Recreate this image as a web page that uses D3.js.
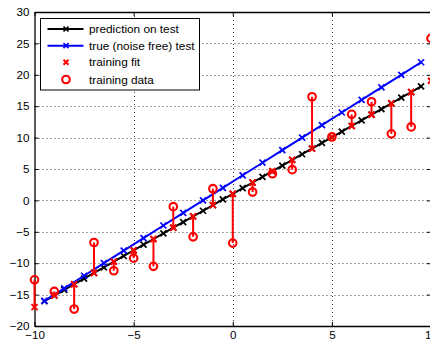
<!DOCTYPE html>
<html>
<head>
<meta charset="utf-8">
<script src="https://cdn.jsdelivr.net/npm/d3@7"></script>
<style>
  html, body { margin: 0; padding: 0; background: #fff; overflow: hidden; }
  svg { display: block; font-family: "Liberation Sans", Arial, Helvetica, sans-serif; }
</style>
</head>
<body>
<svg id="chart" width="430" height="341"></svg>
<script>
// Test inputs and curves
const testXFine = [-9.5,-9,-8.5,-8,-7.5,-7,-6.5,-6,-5.5,-5,-4.5,-4,-3.5,-3,-2.5,-2,-1.5,-1,-0.5,0,
                   0.5,1,1.5,2,2.5,3,3.5,4,4.5,5,5.5,6,6.5,7,7.5,8,8.5,9,9.5];
const predTest = [-16.05,-15.15,-14.25,-13.35,-12.45,-11.55,-10.65,-9.75,-8.85,-7.95,-7.05,-6.15,-5.25,-4.35,
                  -3.45,-2.55,-1.65,-0.75,0.15,1.05,1.95,2.85,3.75,4.65,5.55,6.45,7.35,8.25,9.15,10.05,
                  10.95,11.85,12.75,13.65,14.55,15.45,16.35,17.25,18.15];
const testX = [-9.5,-8.5,-7.5,-6.5,-5.5,-4.5,-3.5,-2.5,-1.5,-0.5,0.5,1.5,2.5,3.5,4.5,5.5,6.5,7.5,8.5,9.5];
const trueTest = [-16,-14,-12,-10,-8,-6,-4,-2,0,2,4,6,8,10,12,14,16,18,20,22];

// Training set and fitted values
const trainX = [-10,-9,-8,-7,-6,-5,-4,-3,-2,-1,0,1,2,3,4,5,6,7,8,9,10];
const trainY = [-12.65,-14.5,-17.3,-6.7,-11.2,-9.2,-10.5,-1.0,-5.8,1.86,-6.8,1.33,4.25,4.9,16.5,10.1,13.7,15.7,10.6,11.7,25.8];
const trainFit = [-17.0,-15.15,-13.35,-11.55,-9.75,-7.95,-6.15,-4.35,-2.55,-0.75,1.05,2.85,4.65,6.45,8.25,10.05,11.85,13.65,15.45,17.25,19.05];

// Axis ticks
const xTicks = [-10,-5,0,5,10];
const yTicks = [-20,-15,-10,-5,0,5,10,15,20,25,30];

const legendItems = [
  {label: "prediction on test", kind: "line", color: "#000"},
  {label: "true (noise free) test", kind: "line", color: "#0000ff"},
  {label: "training fit", kind: "x", color: "#ff0000"},
  {label: "training data", kind: "o", color: "#ff0000"}
];

const svg = d3.select("#chart");
const L = 34.5, R = 431, T = 12, B = 326;
const x = d3.scaleLinear().domain([-10, 10]).range([L, R]);
const y = d3.scaleLinear().domain([-20, 30]).range([B, T]);

// Dotted grid
const grid = svg.append("g").attr("stroke", "#000").attr("stroke-width", 1)
  .attr("stroke-dasharray", "1,3").attr("opacity", 0.75);
grid.selectAll(".gx").data(xTicks.slice(1, -1)).join("line")
  .attr("x1", d => Math.round(x(d)) + 0.5).attr("x2", d => Math.round(x(d)) + 0.5)
  .attr("y1", T).attr("y2", B);
grid.selectAll(".gy").data(yTicks.slice(1, -1)).join("line")
  .attr("y1", d => Math.round(y(d)) + 0.5).attr("y2", d => Math.round(y(d)) + 0.5)
  .attr("x1", L).attr("x2", R);

// Axes with inward ticks
const tickFont = g => g.selectAll("text").attr("font-size", 11.6).attr("fill", "#000")
  .attr("font-family", "'Liberation Sans', Arial, Helvetica, sans-serif");
const fmt = d => (d < 0 ? "\u2212" + Math.abs(d) : String(d));

const xAxis = svg.append("g").attr("transform", `translate(0,${B})`)
  .call(d3.axisBottom(x).tickValues(xTicks).tickFormat(fmt).tickSizeInner(-4).tickSizeOuter(0).tickPadding(5));
xAxis.select(".domain").attr("stroke-width", 1.3);
tickFont(xAxis);

const yAxis = svg.append("g").attr("transform", `translate(${L},0)`)
  .call(d3.axisLeft(y).tickValues(yTicks).tickFormat(fmt).tickSizeInner(-4).tickSizeOuter(0).tickPadding(5));
yAxis.select(".domain").attr("stroke-width", 1.3);
tickFont(yAxis);

const xTop = svg.append("g").attr("transform", `translate(0,${T})`)
  .call(d3.axisTop(x).tickValues(xTicks).tickFormat("").tickSizeInner(-4).tickSizeOuter(0));
xTop.select(".domain").attr("stroke-width", 1.3);
const yRight = svg.append("g").attr("transform", `translate(${R},0)`)
  .call(d3.axisRight(y).tickValues(yTicks).tickFormat("").tickSizeInner(-4).tickSizeOuter(0));

// Marker helpers
function xMark(g, px, py, s, color, w) {
  g.append("path")
    .attr("d", `M${px - s},${py - s}L${px + s},${py + s}M${px - s},${py + s}L${px + s},${py - s}`)
    .attr("stroke", color).attr("stroke-width", w).attr("fill", "none");
}

const plot = svg.append("g");
const line = d3.line().x(d => x(d[0])).y(d => y(d[1]));

// Prediction on test
const predPts = testXFine.map((v, i) => [v, predTest[i]]);
plot.append("path").datum(predPts).attr("d", line)
  .attr("fill", "none").attr("stroke", "#000").attr("stroke-width", 2);
predPts.forEach(p => xMark(plot, x(p[0]), y(p[1]), 3, "#000", 1.7));

// True function on test
const truePts = testX.map((v, i) => [v, trueTest[i]]);
plot.append("path").datum(truePts).attr("d", line)
  .attr("fill", "none").attr("stroke", "#0000ff").attr("stroke-width", 2);
truePts.forEach(p => xMark(plot, x(p[0]), y(p[1]), 3, "#0000ff", 1.7));

// Residual stems
plot.selectAll(".stem").data(trainX).join("line")
  .attr("x1", d => x(d)).attr("x2", d => x(d))
  .attr("y1", (d, i) => y(trainFit[i])).attr("y2", (d, i) => y(trainY[i]))
  .attr("stroke", "#ff0000").attr("stroke-width", 2);

// Training fit
trainX.forEach((v, i) => xMark(plot, x(v), y(trainFit[i]), 3, "#ff0000", 2));

// Training data
plot.selectAll(".obs").data(trainX).join("circle")
  .attr("cx", d => x(d)).attr("cy", (d, i) => y(trainY[i])).attr("r", 3.8)
  .attr("fill", "none").attr("stroke", "#ff0000").attr("stroke-width", 2.1);

// Legend
const lg = svg.append("g");
lg.append("rect").attr("x", 40.5).attr("y", 18.5).attr("width", 159).attr("height", 71.5)
  .attr("fill", "#fff").attr("stroke", "#000").attr("stroke-width", 1);
const rowY = [29, 45.7, 62.3, 79.5];
legendItems.forEach((it, i) => {
  const cy = rowY[i];
  if (it.kind === "line") {
    lg.append("line").attr("x1", 47.5).attr("x2", 83.5).attr("y1", cy).attr("y2", cy)
      .attr("stroke", it.color).attr("stroke-width", 2);
    xMark(lg, 66, cy, 2.5, it.color, 1.7);
  } else if (it.kind === "x") {
    xMark(lg, 66, cy, 2.5, it.color, 2);
  } else {
    lg.append("circle").attr("cx", 66).attr("cy", cy).attr("r", 3.8)
      .attr("fill", "none").attr("stroke", it.color).attr("stroke-width", 2.1);
  }
  lg.append("text").attr("x", 89).attr("y", cy).attr("dy", "0.35em")
    .attr("font-size", 11.8).attr("fill", "#000").text(it.label);
});
</script>
</body>
</html>
